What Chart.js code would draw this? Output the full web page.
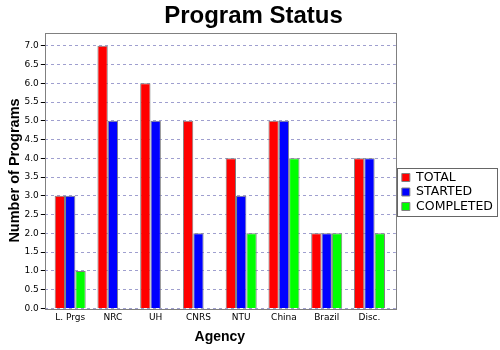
<!DOCTYPE html>
<html>
<head>
<meta charset="utf-8">
<script src="https://cdn.jsdelivr.net/npm/chart.js@4"></script>
<style>
  html, body { margin: 0; padding: 0; background: #ffffff; }
  #wrap { width: 500px; height: 350px; }
</style>
</head>
<body>
<div id="wrap"><canvas id="statusChart" width="500" height="350"></canvas></div>
<script>
// program counts per agency
var agencies = ['L. Prgs', 'NRC', 'UH', 'CNRS', 'NTU', 'China', 'Brazil', 'Disc.'];
var total = [3, 7, 6, 5, 4, 5, 2, 4];
var started = [3, 5, 5, 2, 3, 5, 2, 4];
var completed = [1, 0, 0, 0, 2, 4, 2, 2];

// no outline on empty bars
function edge(ctx) {
    return ctx.raw ? 1 : 0;
}

// small gap between the frame and the outer categories,
// and move the legend a bit right and down
var nudge = {
    id: 'nudge',
    afterLayout: function (chart) {
        var x = chart.scales.x;
        x.left += 4;
        x.right -= 5;
        x.width -= 9;
        x.configure();

        var lg = chart.legend;
        lg.left += 4;
        lg.right += 4;
        lg.top += 19;
        lg.bottom += 19;
    }
};

// grey frame round the plot and round the legend items
var frames = {
    id: 'frames',
    afterDraw: function (chart) {
        var c = chart.ctx;
        var a = chart.chartArea;
        c.save();
        c.strokeStyle = '#808080';
        c.lineWidth = 1;
        c.strokeRect(Math.round(a.left) + 0.5, Math.round(a.top) + 0.5,
            Math.round(a.right - a.left), Math.round(a.bottom - a.top));
        var boxes = chart.legend.legendHitBoxes;
        var l = Infinity, t = Infinity, r = -Infinity, b = -Infinity;
        boxes.forEach(function (h) {
            l = Math.min(l, h.left);
            t = Math.min(t, h.top);
            r = Math.max(r, h.left + h.width);
            b = Math.max(b, h.top + h.height);
        });
        c.strokeStyle = '#666666';
        c.strokeRect(Math.round(l) - 4.5, Math.round(t) - 2.5,
            Math.round(r - l) + 9, Math.round(b - t) + 6);
        c.restore();
    }
};

var canvas = document.getElementById('statusChart');

new Chart(canvas, {
    type: 'bar',
    data: {
        labels: agencies,
        datasets: [{
            label: 'TOTAL',
            data: total,
            backgroundColor: '#ff0000',
            borderColor: '#808080',
            borderWidth: edge
        }, {
            label: 'STARTED',
            data: started,
            backgroundColor: '#0000ff',
            borderColor: '#808080',
            borderWidth: edge
        }, {
            label: 'COMPLETED',
            data: completed,
            backgroundColor: '#00ff00',
            borderColor: '#808080',
            borderWidth: edge
        }]
    },
    options: {
        responsive: false,
        animation: false,
        categoryPercentage: 0.726,
        barPercentage: 1.0,
        layout: {
            padding: { left: 8, right: 1, top: 0, bottom: 4 }
        },
        plugins: {
            title: {
                display: true,
                text: 'Program Status',
                color: '#000000',
                font: { family: 'Liberation Sans', size: 24, weight: 'bold', lineHeight: 1.15 },
                padding: { top: 3, bottom: 2 }
            },
            legend: {
                position: 'right',
                labels: {
                    color: '#000000',
                    boxWidth: 8,
                    boxHeight: 8,
                    padding: 2,
                    font: { family: 'DejaVu Sans', size: 12.5 }
                }
            },
            tooltip: { enabled: false }
        },
        scales: {
            x: {
                grid: { display: false, drawTicks: false },
                border: { display: false },
                ticks: {
                    color: '#000000',
                    font: { family: 'DejaVu Sans', size: 9 },
                    padding: 4
                },
                title: {
                    display: true,
                    text: 'Agency',
                    color: '#000000',
                    font: { family: 'Liberation Sans', size: 14, weight: 'bold' },
                    padding: { top: 2, bottom: 0 }
                }
            },
            y: {
                min: 0,
                max: 7.35,
                border: { display: false, dash: [3, 3] },
                grid: {
                    color: '#9f9fcf',
                    tickColor: '#000000',
                    tickLength: 4,
                    tickBorderDash: [],
                    drawOnChartArea: true
                },
                ticks: {
                    stepSize: 0.5,
                    includeBounds: false,
                    color: '#000000',
                    font: { family: 'DejaVu Sans', size: 9 },
                    padding: 2,
                    callback: function (v) { return v.toFixed(1); }
                },
                title: {
                    display: true,
                    text: 'Number of Programs',
                    color: '#000000',
                    font: { family: 'Liberation Sans', size: 14.5, weight: 'bold', lineHeight: 1.0 },
                    padding: { top: 0, bottom: 0 }
                }
            }
        }
    },
    plugins: [nudge, frames]
});
</script>
</body>
</html>
